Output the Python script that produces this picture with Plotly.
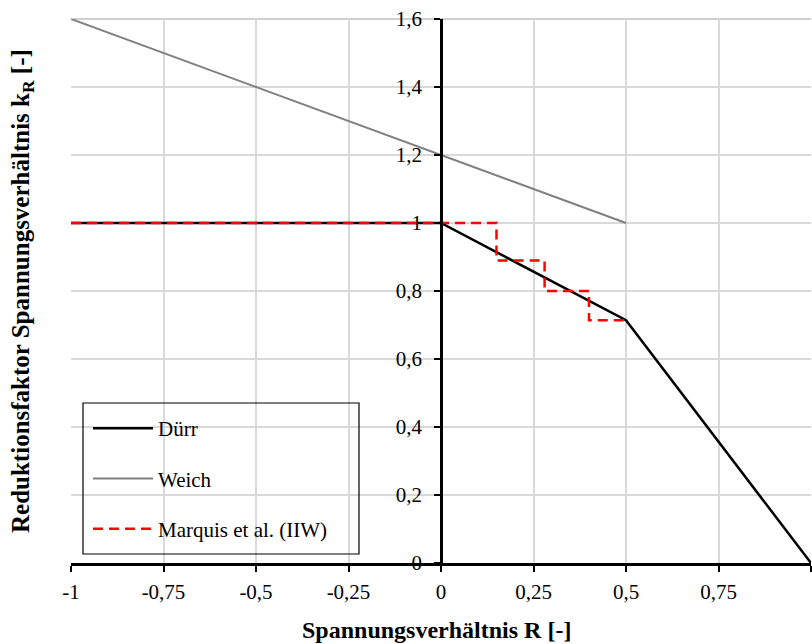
import plotly.graph_objects as go

# Data
durr_R = [-1, 0, 0.5, 1]
durr_k = [1.0, 1.0, 0.714, 0.0]

weich_R = [-1, 0.5]
weich_k = [1.6, 1.0]

marquis_R = [-1, 0.15, 0.15, 0.28, 0.28, 0.4, 0.4, 0.5]
marquis_k = [1.0, 1.0, 0.89, 0.89, 0.80, 0.80, 0.714, 0.714]

x_tickvals = [-1, -0.75, -0.5, -0.25, 0, 0.25, 0.5, 0.75, 1]
x_ticktext = ["-1", "-0,75", "-0,5", "-0,25", "0", "0,25", "0,5", "0,75", "1"]
y_tickvals = [0, 0.2, 0.4, 0.6, 0.8, 1.0, 1.2, 1.4, 1.6]
y_ticktext = ["0", "0,2", "0,4", "0,6", "0,8", "1", "1,2", "1,4", "1,6"]

FONT = "Liberation Serif, Times New Roman, serif"
L, R, T, B = 71, 1, 19, 81
PW, PH = 812 - L - R, 644 - T - B

fig = go.Figure()
fig.add_trace(go.Scatter(x=durr_R, y=durr_k, mode="lines", name="Dürr",
                         line=dict(color="black", width=2.5), legendgroup="a"))
fig.add_trace(go.Scatter(x=weich_R, y=weich_k, mode="lines", name="Weich",
                         line=dict(color="#808080", width=2), legendgroup="b"))
fig.add_trace(go.Scatter(x=marquis_R, y=marquis_k, mode="lines", name="Marquis et al. (IIW)",
                         line=dict(color="#ff0000", width=2.5, dash="10px,6px"), legendgroup="c"))

fig.update_layout(
    width=812, height=644,
    margin=dict(l=L, r=R, t=T, b=B, autoexpand=False),
    paper_bgcolor="white", plot_bgcolor="white",
    font=dict(family=FONT, size=21, color="black"),
    showlegend=True,
    legend=dict(x=(88 - L) / PW, y=(563 - 408) / PH, xanchor="left", yanchor="top",
                bgcolor="rgba(0,0,0,0)", borderwidth=0,
                font=dict(family=FONT, size=21, color="black"),
                tracegroupgap=20, itemwidth=60),
    xaxis=dict(range=[-1, 1], tickvals=x_tickvals, ticktext=x_ticktext,
               automargin=False,
               showgrid=True, gridcolor="#d9d9d9", gridwidth=1.5,
               showline=True, linecolor="black", linewidth=2.5,
               ticks="outside", ticklen=6, tickwidth=2, tickcolor="black",
               ticklabelstandoff=2,
               zeroline=False, tickfont=dict(family=FONT, size=21)),
    yaxis=dict(range=[0, 1.6], tickvals=y_tickvals, ticktext=y_ticktext,
               anchor="free", position=0.5, automargin=False,
               showgrid=True, gridcolor="#d9d9d9", gridwidth=1.5,
               showline=True, linecolor="black", linewidth=2.5,
               ticks="outside", ticklen=6, tickwidth=2, tickcolor="black",
               ticklabelstandoff=8,
               zeroline=False, tickfont=dict(family=FONT, size=21)),
    shapes=[dict(type="rect", xref="paper", yref="paper",
                 x0=(83 - L) / PW, x1=(359 - L) / PW,
                 y0=(563 - 554) / PH, y1=(563 - 403) / PH,
                 line=dict(color="black", width=1.2), fillcolor="rgba(0,0,0,0)", layer="above"),
            dict(type="line", xref="paper", yref="paper", x0=0, x1=1, y0=1, y1=1,
                 line=dict(color="#bfbfbf", width=1.5), layer="below")],
    annotations=[dict(text="<b>Reduktionsfaktor Spannungsverhältnis k<sub>R</sub> [-]</b>",
                      xref="paper", yref="paper", x=-(L - 22) / PW, y=(563 - 291) / PH,
                      textangle=-90, showarrow=False,
                      font=dict(family=FONT, size=25),
                      xanchor="center", yanchor="middle"),
                 dict(text="<b>Spannungsverhältnis R [-]</b>",
                      xref="paper", yref="paper", x=(436 - L) / PW, y=-(630 - 563) / PH,
                      showarrow=False, font=dict(family=FONT, size=24),
                      xanchor="center", yanchor="middle")],
)

fig.write_html("out.html", config={"displayModeBar": False},
               post_script="document.body.style.margin='0';document.body.style.overflow='hidden';")
